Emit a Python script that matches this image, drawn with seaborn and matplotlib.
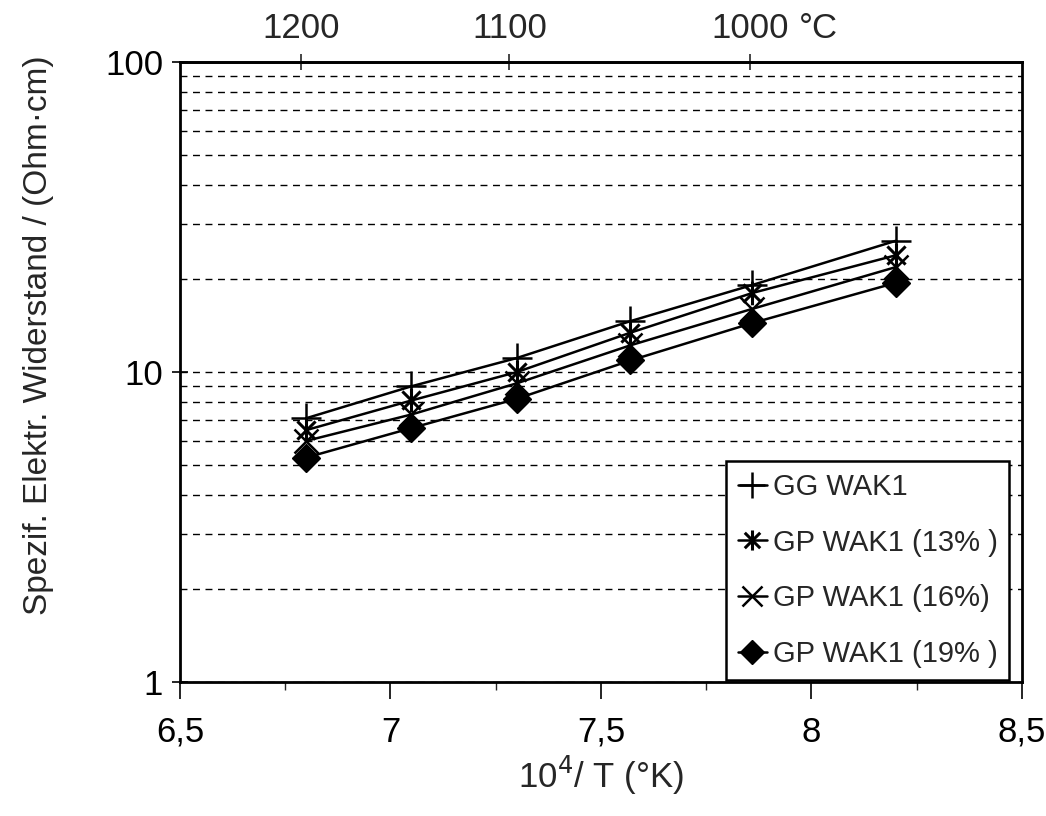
import numpy as np
import pandas as pd
import seaborn as sns
import matplotlib.pyplot as plt
from matplotlib.path import Path
from matplotlib.ticker import FixedLocator, NullFormatter, LogLocator

# ---- data ----
inv_T = [6.80, 7.05, 7.30, 7.57, 7.86, 8.20]          # 10^4 / T (K)
gg_wak1 = [7.1, 9.0, 11.1, 14.6, 19.1, 26.5]
gp_wak1_13 = [6.5, 8.1, 10.0, 13.4, 18.0, 23.8]
gp_wak1_16 = [6.0, 7.3, 9.2, 12.2, 16.0, 21.8]
gp_wak1_19 = [5.3, 6.6, 8.2, 10.9, 14.4, 19.4]
series_names = ["GG WAK1", "GP WAK1 (13% )", "GP WAK1 (16%)", "GP WAK1 (19% )"]
x_ticks = [6.5, 7.0, 7.5, 8.0, 8.5]
x_ticklabels = ["6,5", "7", "7,5", "8", "8,5"]
y_ticks = [1, 10, 100]
y_ticklabels = ["1", "10", "100"]
top_ticks_c = [1200, 1100, 1000]
top_ticklabels = ["1200", "1100", "1000"]

df = pd.DataFrame({
    "x": inv_T * 4,
    "y": gg_wak1 + gp_wak1_13 + gp_wak1_16 + gp_wak1_19,
    "series": sum([[n] * len(inv_T) for n in series_names], []),
})

sns.set_style("white")
plt.rcParams["font.family"] = ["Liberation Sans", "DejaVu Sans"]

fig = plt.figure(figsize=(10.46, 8.16), dpi=100)
ax = fig.add_axes([0.172, 0.164, 0.805, 0.760])

# Excel-like star marker: X with vertical bar
star_path = Path([(-1, -1), (1, 1), (-1, 1), (1, -1), (0, -1.3), (0, 1.3)],
                 [Path.MOVETO, Path.LINETO, Path.MOVETO, Path.LINETO, Path.MOVETO, Path.LINETO])

styles = {
    "GG WAK1": dict(marker="+", markersize=22, markeredgewidth=1.8),
    "GP WAK1 (13% )": dict(marker=star_path, markersize=17, markeredgewidth=2.2, fillstyle="none"),
    "GP WAK1 (16%)": dict(marker="x", markersize=17, markeredgewidth=1.8),
    "GP WAK1 (19% )": dict(marker="D", markersize=14, markeredgewidth=1.0, markerfacecolor="black"),
}

handles = []
for name in series_names:
    sub = df[df["series"] == name]
    sns.lineplot(data=sub, x="x", y="y", ax=ax, color="black", linewidth=1.8,
                 markeredgecolor="black", label=name, legend=False, **styles[name])
    handles.append(ax.lines[-1])

ax.set_yscale("log")
ax.set_ylim(1, 100)
ax.set_xlim(6.5, 8.5)

ax.yaxis.set_major_locator(FixedLocator(y_ticks))
ax.set_yticklabels(y_ticklabels)
ax.yaxis.set_minor_locator(LogLocator(base=10, subs=np.arange(2, 10)))
ax.yaxis.set_minor_formatter(NullFormatter())
ax.set_xticks(x_ticks)
ax.set_xticklabels(x_ticklabels)
ax.set_xticks(np.arange(6.75, 8.5, 0.5), minor=True)

ax.yaxis.grid(True, which="both", linestyle=(0, (5, 4)), color="black", linewidth=1.0)
ax.xaxis.grid(False)

ax.tick_params(axis="both", which="major", labelsize=25, colors="black", width=1.2)
ax.tick_params(axis="x", which="major", bottom=True, length=12, direction="out", pad=12)
ax.tick_params(axis="x", which="minor", bottom=True, length=6, width=1.0, direction="out")
ax.tick_params(axis="y", which="minor", length=0, left=False)
ax.tick_params(axis="y", which="major", left=True, direction="inout", length=12, pad=6)

for sp in ax.spines.values():
    sp.set_visible(True)
    sp.set_color("black")
    sp.set_linewidth(2.0)

def inv_to_c(x):
    x = np.asarray(x, dtype=float)
    with np.errstate(divide="ignore", invalid="ignore"):
        return 1e4 / x - 273.15

def c_to_inv(c):
    c = np.asarray(c, dtype=float)
    with np.errstate(divide="ignore", invalid="ignore"):
        return 1e4 / (c + 273.15)

sec = ax.secondary_xaxis("top", functions=(inv_to_c, c_to_inv))
sec.set_xticks(top_ticks_c)
sec.set_xticklabels(top_ticklabels)
sec.tick_params(axis="x", top=True, labelsize=25, length=12, width=1.2, direction="inout", pad=6)
sec.spines["top"].set_linewidth(2.0)
ax.text(c_to_inv(1000) + 0.115, 1.0, "°C", transform=ax.get_xaxis_transform(),
        fontsize=25, ha="left", va="bottom")
# match vertical placement of the top tick labels
fig.canvas.draw()
lab_bb = sec.get_xticklabels()[-1].get_window_extent()
y_axes = ax.transAxes.inverted().transform((0, lab_bb.y0))[1]
ax.texts[-1].set_position((c_to_inv(1000) + 0.115, y_axes))

ax.set_xlabel("10$^{4}$/ T (°K)", fontsize=25, labelpad=4)
ax.set_ylabel("Spezif. Elektr. Widerstand / (Ohm·cm)", fontsize=24)
ax.yaxis.set_label_coords(-0.15, 0.56)

leg = ax.legend(handles=handles, labels=series_names, loc="lower right",
                bbox_to_anchor=(0.985, 0.004), borderaxespad=0, fontsize=21,
                frameon=True, fancybox=False, edgecolor="black", framealpha=1,
                handlelength=1.0, handletextpad=0.2, labelspacing=0.95, borderpad=0.4,
                markerscale=0.85)
leg.get_frame().set_linewidth(1.8)

fig.savefig("out.png", dpi=100, facecolor="white")
